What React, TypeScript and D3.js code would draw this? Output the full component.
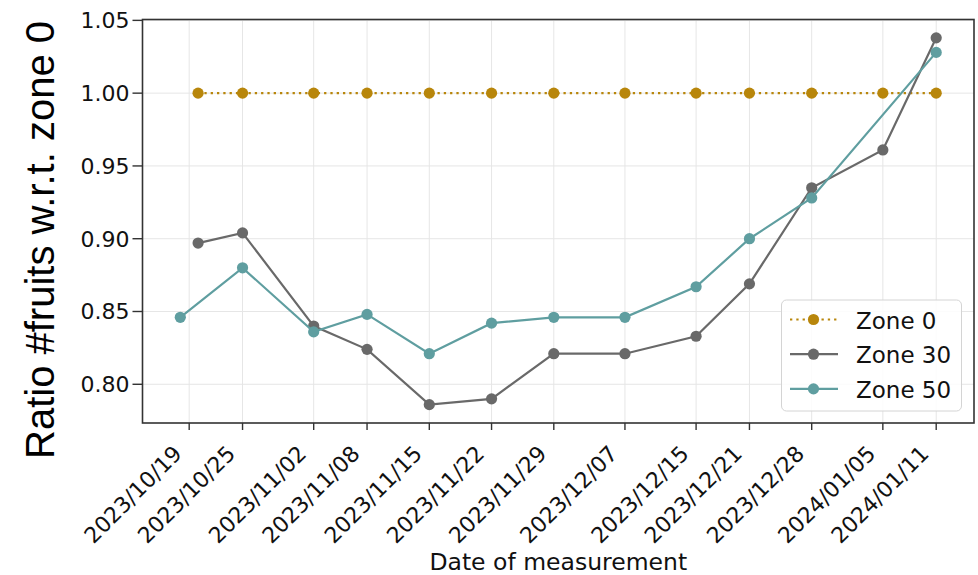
import * as d3 from "d3";

// measurement dates shown on the x axis
const tickDates = [
  "2023-10-19", "2023-10-25", "2023-11-02", "2023-11-08", "2023-11-15",
  "2023-11-22", "2023-11-29", "2023-12-07", "2023-12-15", "2023-12-21",
  "2023-12-28", "2024-01-05", "2024-01-11",
];

const zone0Dates = [
  "2023-10-20", "2023-10-25", "2023-11-02", "2023-11-08", "2023-11-15",
  "2023-11-22", "2023-11-29", "2023-12-07", "2023-12-15", "2023-12-21",
  "2023-12-28", "2024-01-05", "2024-01-11",
];
const zone0Values = [1, 1, 1, 1, 1, 1, 1, 1, 1, 1, 1, 1, 1];

const zone30Dates = zone0Dates;
const zone30Values = [
  0.897, 0.904, 0.84, 0.824, 0.786, 0.79, 0.821, 0.821, 0.833, 0.869, 0.935,
  0.961, 1.038,
];

const zone50Dates = [
  "2023-10-18", "2023-10-25", "2023-11-02", "2023-11-08", "2023-11-15",
  "2023-11-22", "2023-11-29", "2023-12-07", "2023-12-15", "2023-12-21",
  "2023-12-28", "2024-01-11",
];
const zone50Values = [
  0.846, 0.88, 0.836, 0.848, 0.821, 0.842, 0.846, 0.846, 0.867, 0.9, 0.928,
  1.028,
];

const yTicks = [0.8, 0.85, 0.9, 0.95, 1.0, 1.05];

const parse = d3.timeParse("%Y-%m-%d");
const fmt = d3.timeFormat("%Y/%m/%d");

interface Series {
  name: string;
  color: string;
  dash?: string;
  points: { date: Date; value: number }[];
}

const series: Series[] = [
  {
    name: "Zone 0",
    color: "#b8860b",
    dash: "2.3,4",
    points: zone0Dates.map((d, i) => ({ date: parse(d)!, value: zone0Values[i] })),
  },
  {
    name: "Zone 30",
    color: "#696969",
    points: zone30Dates.map((d, i) => ({ date: parse(d)!, value: zone30Values[i] })),
  },
  {
    name: "Zone 50",
    color: "#5f9ea0",
    points: zone50Dates.map((d, i) => ({ date: parse(d)!, value: zone50Values[i] })),
  },
];

export default function App() {
  const width = 978;
  const height = 575;
  const plot = { left: 142.5, right: 974, top: 19.5, bottom: 423 };

  const all = series.flatMap((s) => s.points);
  // matplotlib style 5% margins
  const [d0, d1] = d3.extent(all, (p) => +p.date) as [number, number];
  const dPad = (d1 - d0) * 0.05;
  const [v0, v1] = d3.extent(all, (p) => p.value) as [number, number];
  const vPad = (v1 - v0) * 0.05;

  const x = d3
    .scaleTime()
    .domain([new Date(d0 - dPad), new Date(d1 + dPad)])
    .range([plot.left, plot.right]);
  const y = d3
    .scaleLinear()
    .domain([v0 - vPad, v1 + vPad])
    .range([plot.bottom, plot.top]);

  const line = d3
    .line<{ date: Date; value: number }>()
    .x((d) => x(d.date))
    .y((d) => y(d.value));

  const ticks = tickDates.map((d) => parse(d)!);
  const font = "'DejaVu Sans', sans-serif";

  const legend = { x: 781.5, y: 300, w: 180, h: 111, row: 34.7 };

  return (
    <svg
      width={width}
      height={height}
      style={{ position: "absolute", left: 0, top: 0, background: "#fff" }}
    >
      {/* grid */}
      <g stroke="#e6e6e6" strokeWidth={1}>
        {ticks.map((t, i) => (
          <line key={"gx" + i} x1={x(t)} x2={x(t)} y1={plot.top} y2={plot.bottom} />
        ))}
        {yTicks.map((t, i) => (
          <line key={"gy" + i} x1={plot.left} x2={plot.right} y1={y(t)} y2={y(t)} />
        ))}
      </g>

      {/* series */}
      {series.map((s) => (
        <g key={s.name}>
          <path
            d={line(s.points)!}
            fill="none"
            stroke={s.color}
            strokeWidth={2.2}
            strokeDasharray={s.dash}
          />
          {s.points.map((p, i) => (
            <circle key={i} cx={x(p.date)} cy={y(p.value)} r={5.6} fill={s.color} />
          ))}
        </g>
      ))}

      {/* frame */}
      <rect
        x={plot.left}
        y={plot.top}
        width={plot.right - plot.left}
        height={plot.bottom - plot.top}
        fill="none"
        stroke="#333"
        strokeWidth={1.6}
      />

      {/* y axis */}
      <g fontFamily={font} fontSize={22} fill="#111">
        {yTicks.map((t, i) => (
          <g key={i}>
            <line x1={plot.left - 10} x2={plot.left} y1={y(t)} y2={y(t)} stroke="#333" strokeWidth={1.4} />
            <text x={plot.left - 13} y={y(t)} textAnchor="end" dy="0.36em">
              {d3.format(".2f")(t)}
            </text>
          </g>
        ))}
      </g>

      {/* x axis */}
      <g fontFamily={font} fontSize={22} fill="#111">
        {ticks.map((t, i) => (
          <g key={i}>
            <line x1={x(t)} x2={x(t)} y1={plot.bottom} y2={plot.bottom + 7} stroke="#333" strokeWidth={1.4} />
            <text
              textAnchor="end"
              transform={`translate(${x(t) - 6},${plot.bottom + 32}) rotate(-45)`}
            >
              {fmt(t)}
            </text>
          </g>
        ))}
      </g>

      <text
        x={(plot.left + plot.right) / 2}
        y={569.5}
        textAnchor="middle"
        fontFamily={font}
        fontSize={23.5}
        fill="#111"
      >
        Date of measurement
      </text>
      <text
        transform={`translate(54,240) rotate(-90)`}
        textAnchor="middle"
        fontFamily="'Liberation Sans', Arial, sans-serif"
        fontSize={40}
        fill="#000"
      >
        Ratio #fruits w.r.t. zone 0
      </text>

      {/* legend */}
      <g>
        <rect
          x={legend.x}
          y={legend.y}
          width={legend.w}
          height={legend.h}
          rx={5}
          fill="#fff"
          fillOpacity={0.85}
          stroke="#d4d4d4"
          strokeWidth={1}
        />
        {series.map((s, i) => {
          const cy = legend.y + 19.5 + i * legend.row;
          return (
            <g key={s.name}>
              <line
                x1={legend.x + 8.5}
                x2={legend.x + 56.5}
                y1={cy}
                y2={cy}
                stroke={s.color}
                strokeWidth={2.2}
                strokeDasharray={s.dash}
              />
              <circle cx={legend.x + 32} cy={cy} r={5.6} fill={s.color} />
              <text
                x={legend.x + 74.5}
                y={cy + 9}
                fontFamily={font}
                fontSize={23}
                fill="#111"
              >
                {s.name}
              </text>
            </g>
          );
        })}
      </g>
    </svg>
  );
}
